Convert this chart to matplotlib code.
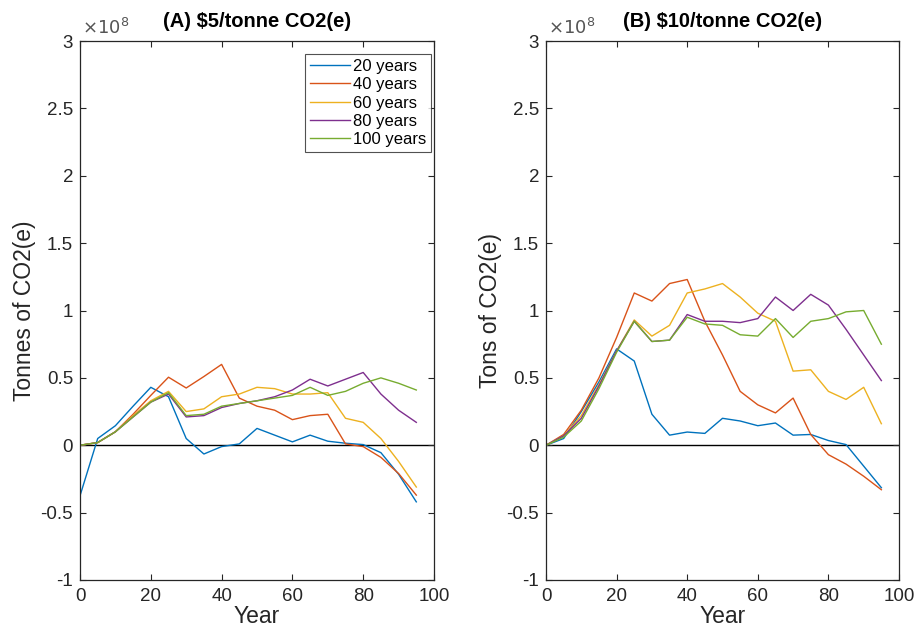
import matplotlib
matplotlib.use("Agg")
import matplotlib.pyplot as plt
from matplotlib.ticker import FuncFormatter

plt.rcParams["font.family"] = ["Liberation Sans", "DejaVu Sans"]
plt.rcParams["axes.unicode_minus"] = False

# years of the simulation, values in units of 1e8 tonnes CO2(e)
years = list(range(0, 100, 5))
labels = ["20 years", "40 years", "60 years", "80 years", "100 years"]
colors = ["#0072BD", "#D95319", "#EDB120", "#7E2F8E", "#77AC30"]

# (A) $5/tonne
a_20 = [-0.375, 0.05, 0.145, 0.29, 0.43, 0.36, 0.05, -0.065, -0.01, 0.01,
        0.125, 0.075, 0.025, 0.075, 0.03, 0.015, 0.005, -0.055, -0.215, -0.42]
a_40 = [0.0, 0.02, 0.10, 0.23, 0.37, 0.505, 0.425, 0.51, 0.60, 0.35,
        0.29, 0.26, 0.19, 0.22, 0.23, 0.01, -0.01, -0.09, -0.21, -0.37]
a_60 = [0.0, 0.02, 0.10, 0.22, 0.33, 0.40, 0.25, 0.27, 0.36, 0.38,
        0.43, 0.42, 0.38, 0.38, 0.39, 0.20, 0.17, 0.05, -0.12, -0.31]
a_80 = [0.0, 0.02, 0.10, 0.21, 0.32, 0.38, 0.21, 0.22, 0.28, 0.31,
        0.33, 0.36, 0.41, 0.49, 0.44, 0.49, 0.54, 0.38, 0.26, 0.17]
a_100 = [0.0, 0.02, 0.10, 0.21, 0.32, 0.39, 0.22, 0.23, 0.29, 0.31,
         0.33, 0.35, 0.37, 0.43, 0.37, 0.40, 0.46, 0.50, 0.46, 0.41]

# (B) $10/tonne
b_20 = [0.0, 0.05, 0.25, 0.47, 0.715, 0.625, 0.23, 0.075, 0.098, 0.088,
        0.20, 0.18, 0.145, 0.165, 0.075, 0.08, 0.035, 0.005, -0.155, -0.315]
b_40 = [0.0, 0.08, 0.26, 0.50, 0.80, 1.13, 1.07, 1.20, 1.23, 0.92,
        0.67, 0.40, 0.30, 0.24, 0.35, 0.08, -0.07, -0.14, -0.23, -0.33]
b_60 = [0.0, 0.07, 0.22, 0.45, 0.70, 0.93, 0.81, 0.89, 1.13, 1.16,
        1.20, 1.10, 0.98, 0.92, 0.55, 0.56, 0.40, 0.34, 0.43, 0.16]
b_80 = [0.0, 0.07, 0.20, 0.44, 0.70, 0.92, 0.77, 0.78, 0.97, 0.92,
        0.92, 0.91, 0.94, 1.10, 1.00, 1.12, 1.04, 0.86, 0.67, 0.48]
b_100 = [0.0, 0.06, 0.18, 0.42, 0.69, 0.92, 0.77, 0.78, 0.95, 0.90,
         0.89, 0.82, 0.81, 0.94, 0.80, 0.92, 0.94, 0.99, 1.00, 0.75]

panels = [
    ("(A) \\$5/tonne CO2(e)", "Tonnes of CO2(e)", [a_20, a_40, a_60, a_80, a_100]),
    ("(B) \\$10/tonne CO2(e)", "Tons of CO2(e)", [b_20, b_40, b_60, b_80, b_100]),
]

fig = plt.figure(figsize=(9.16, 6.3), dpi=100)
ax_rects = [
    [80 / 916, 50 / 630, 354 / 916, 539 / 630],
    [546 / 916, 50 / 630, 353 / 916, 539 / 630],
]

fmt = FuncFormatter(lambda v, pos: f"{v:g}")
ink = "#262626"

for i, (title, ylabel, series) in enumerate(panels):
    ax = fig.add_axes(ax_rects[i])
    for vals, lab, col in zip(series, labels, colors):
        ax.plot(years, vals, color=col, lw=1.0, label=lab)
    ax.axhline(0, color="black", lw=1.0, zorder=1)

    ax.set_xlim(0, 100)
    ax.set_ylim(-1, 3)
    ax.set_xticks(range(0, 101, 20))
    ax.set_yticks([-1, -0.5, 0, 0.5, 1, 1.5, 2, 2.5, 3])
    ax.yaxis.set_major_formatter(fmt)
    ax.tick_params(direction="in", top=True, right=True, labelsize=13.5,
                   length=4, width=0.8, colors=ink)
    ax.tick_params(axis="x", pad=6)
    ax.tick_params(axis="y", pad=5)
    for s in ax.spines.values():
        s.set_color(ink)
        s.set_linewidth(0.9)

    ax.set_xlabel("Year", fontsize=16.5, color=ink, labelpad=0)
    ax.set_ylabel(ylabel, fontsize=16.5, color=ink, labelpad=3)
    ax.set_title(title, fontsize=14.5, fontweight="bold", pad=10)
    ax.text(0.005, 1.005, r"$\times10^{8}$", transform=ax.transAxes,
            fontsize=13, color="#555555", ha="left", va="bottom")

    if i == 0:
        leg = ax.legend(loc="upper right", bbox_to_anchor=(0.992, 0.976),
                        fontsize=12, frameon=True, fancybox=False,
                        edgecolor=ink, handlelength=2.4, handletextpad=0.15,
                        labelspacing=0.2, borderpad=0.3, borderaxespad=0)
        leg.get_frame().set_linewidth(0.8)

fig.savefig("out.png", dpi=100)
